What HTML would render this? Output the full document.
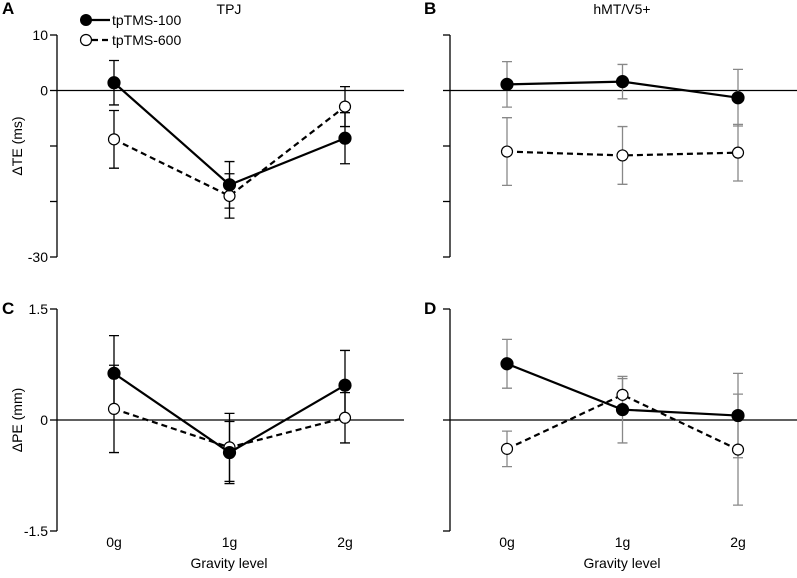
<!DOCTYPE html>
<html><head><meta charset="utf-8"><style>
body{margin:0;background:#fff}
svg text{font-family:"Liberation Sans",sans-serif}
</style></head><body>
<svg id="chart" width="797" height="573" viewBox="0 0 797 573" xmlns="http://www.w3.org/2000/svg"></svg>
<script>
const categories = ["0g","1g","2g"];
const teTicks = [10, 0, -10, -20, -30];
const teTickLabels = ["10","0","","","-30"];
const peTicks = [1.5, 0, -1.5];
const peTickLabels = ["1.5","0","-1.5"];
const aFilled = [1.4, -17, -8.6];
const aFilledErr = [4, 4.2, 4.6];
const aOpen = [-8.8, -19, -2.9];
const aOpenErr = [5.2, 4, 3.6];
const bFilled = [1.1, 1.6, -1.3];
const bFilledErr = [4.1, 3.1, 5.1];
const bOpen = [-11, -11.7, -11.2];
const bOpenErr = [6.1, 5.2, 5.1];
const cFilled = [0.63, -0.44, 0.47];
const cFilledErr = [0.51, 0.42, 0.47];
const cOpen = [0.15, -0.37, 0.03];
const cOpenErr = [0.59, 0.46, 0.34];
const dFilled = [0.76, 0.14, 0.06];
const dFilledErr = [0.33, 0.45, 0.57];
const dOpen = [-0.39, 0.34, -0.4];
const dOpenErr = [0.24, 0.22, 0.75];

const svg = document.getElementById('chart');
const NS = "http://www.w3.org/2000/svg";
function el(tag, attrs, parent){
  const e = document.createElementNS(NS, tag);
  for (const k in attrs) e.setAttribute(k, attrs[k]);
  (parent||svg).appendChild(e); return e;
}
function panel(o){
  const g = el('g', {});
  
  
  const y = v => o.y0 + (o.max - v) / (o.max - o.min) * (o.y1 - o.y0);
  const x = i => o.ax + 57 + i * 115.5;
  // axis
  const axis = el('line', {x1:o.ax, y1:o.y0, x2:o.ax, y2:o.y1, stroke:'#000', 'stroke-width':1.3}, g);
  
  
  o.ticks.forEach((t, i) => {
    const tk = el('line', {x1:o.ax-7, y1:y(t), x2:o.ax, y2:y(t), stroke:'#000', 'stroke-width':1.3}, g);
    
    
    if (o.showLabels && o.tickLabels[i]) {
      const tl = el('text', {x:o.ax-9, y:y(t)+5, 'text-anchor':'end', 'font-size':14}, g);
      tl.textContent = o.tickLabels[i];
      
      
    }
  });
  const zl = el('line', {x1:o.ax, y1:y(0), x2:o.ax+347, y2:y(0), stroke:'#000', 'stroke-width':1.2}, g);
  
  
  const series = [
    {v:o.open, e:o.openErr, fill:'#fff', dash:'6,4', name:'tpTMS-600'},
    {v:o.filled, e:o.filledErr, fill:'#000', dash:'', name:'tpTMS-100'}
  ];
  series.forEach(s => {
    s.v.forEach((v, i) => {
      const ec = o.grey ? '#888' : '#000';
      const eb = el('path', {d:`M${x(i)},${y(v+s.e[i])}V${y(v-s.e[i])}M${x(i)-5},${y(v+s.e[i])}h10M${x(i)-5},${y(v-s.e[i])}h10`, stroke:ec, 'stroke-width':1.3, fill:'none'}, g);
      
      
    });
  });
  series.forEach(s => {
    const pts = s.v.map((v, i) => x(i) + ',' + y(v)).join(' ');
    const pl = el('polyline', {points:pts, fill:'none', stroke:'#000', 'stroke-width':2.2, 'stroke-dasharray':s.dash}, g);
    
    
    s.v.forEach((v, i) => {
      const c = el('circle', {cx:x(i), cy:y(v), r:s.fill==='#000'?6:5.5, fill:s.fill, stroke:'#000', 'stroke-width':1.2}, g);
      
      
    });
  });
  if (o.xlabels) {
    categories.forEach((c, i) => {
      const t = el('text', {x:x(i), y:547, 'text-anchor':'middle', 'font-size':14}, g);
      t.textContent = c;
      
      
    });
    const xt = el('text', {x:o.ax+172, y:568, 'text-anchor':'middle', 'font-size':14}, g);
    xt.textContent = 'Gravity level';
    
    
  }
  const L = el('text', {x:o.lx, y:o.ly, 'font-size':17, 'font-weight':'bold'}, g);
  L.textContent = o.id;
  
  
  if (o.title) {
    const T = el('text', {x:o.ax+172, y:14, 'text-anchor':'middle', 'font-size':14}, g);
    T.textContent = o.title;
    
    
  }
  if (o.ytitle) {
    const yt = el('text', {x:0, y:0, 'text-anchor':'middle', 'font-size':14, transform:`translate(22,${(o.y0+o.y1)/2}) rotate(-90)`}, g);
    yt.textContent = o.ytitle;
    
    
  }
}
panel({id:'A', ax:57, y0:35, y1:257, max:10, min:-30, ticks:teTicks, tickLabels:teTickLabels, showLabels:true, filled:aFilled, filledErr:aFilledErr, open:aOpen, openErr:aOpenErr, title:'TPJ', ytitle:'ΔTE (ms)', lx:2, ly:14});
panel({id:'B', ax:450, y0:35, y1:257, max:10, min:-30, ticks:teTicks, tickLabels:teTickLabels, showLabels:false, grey:true, filled:bFilled, filledErr:bFilledErr, open:bOpen, openErr:bOpenErr, title:'hMT/V5+', lx:424, ly:14});
panel({id:'C', ax:57, y0:309, y1:531, max:1.5, min:-1.5, ticks:peTicks, tickLabels:peTickLabels, showLabels:true, filled:cFilled, filledErr:cFilledErr, open:cOpen, openErr:cOpenErr, ytitle:'ΔPE (mm)', xlabels:true, lx:2, ly:314});
panel({id:'D', ax:450, y0:309, y1:531, max:1.5, min:-1.5, ticks:peTicks, tickLabels:peTickLabels, showLabels:false, grey:true, filled:dFilled, filledErr:dFilledErr, open:dOpen, openErr:dOpenErr, xlabels:true, lx:424, ly:314});
// legend
const lg = el('g', {});


const l1 = el('line', {x1:86, y1:20, x2:110, y2:20, stroke:'#000', 'stroke-width':2.2}, lg);
el('circle', {cx:86, cy:20, r:6, fill:'#000'}, lg);
const t1 = el('text', {x:112, y:25, 'font-size':14}, lg);
t1.textContent = 'tpTMS-100';


el('line', {x1:92, y1:40, x2:110, y2:40, stroke:'#000', 'stroke-width':2.2, 'stroke-dasharray':'6,4'}, lg);
el('circle', {cx:86, cy:40, r:5.5, fill:'#fff', stroke:'#000', 'stroke-width':1.2}, lg);
const t2 = el('text', {x:112, y:45, 'font-size':14}, lg);
t2.textContent = 'tpTMS-600';


</script>
</body></html>
